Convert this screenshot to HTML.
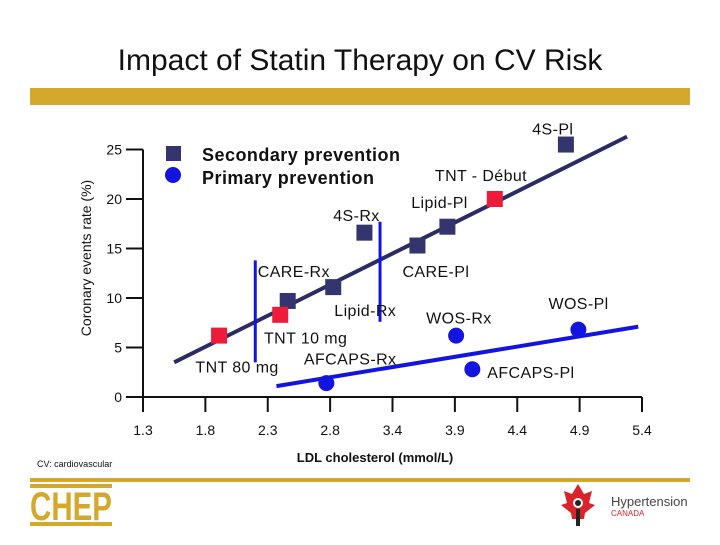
<!DOCTYPE html>
<html><head><meta charset="utf-8"><style>
body{margin:0;background:#fff}
svg text{font-family:"Liberation Sans",sans-serif}
</style></head><body>
<svg id="c" width="720" height="540">
<text x="360" y="70" font-size="30" text-anchor="middle" fill="#111">Impact of Statin Therapy on CV Risk</text>
<rect x="30" y="88" width="660" height="17" fill="#d4a92b"/>
<text transform="translate(91,258) rotate(-90)" font-size="14" text-anchor="middle" fill="#111">Coronary events rate (%)</text>
<text x="375" y="462" font-size="13" font-weight="bold" text-anchor="middle" fill="#111">LDL cholesterol (mmol/L)</text>
<text x="37" y="467" font-size="9" fill="#111">CV: cardiovascular</text>
<rect x="30" y="478" width="660" height="4" fill="#d4a92b"/>
<g>
<rect x="30" y="484" width="82" height="4" fill="#d4a92b"/>
<text x="30" y="520" font-size="40" font-weight="bold" fill="#d4a92b" textLength="82" lengthAdjust="spacingAndGlyphs">CHEP</text>
<rect x="30" y="522" width="82" height="4" fill="#d4a92b"/>
</g>
<g>
<path d="M578 484 l6 10 l8 -3 l-3 12 l6 2 l-10 8 l-1 6 h-12 l-1 -6 l-10 -8 l6 -2 l-3 -12 l8 3z" fill="#d9242b"/>
<circle cx="578" cy="503" r="5" fill="#fff"/><circle cx="578" cy="503" r="3" fill="#222"/>
<rect x="576" y="509" width="4" height="17" fill="#222"/>
<text x="611" y="506" font-size="13" fill="#444">Hypertension</text>
<text x="611" y="516" font-size="8" fill="#d9242b">CANADA</text>
</g>
<g id="plot"></g>
</svg>
<script>
const xTicks=[1.3,1.8,2.3,2.8,3.4,3.9,4.4,4.9,5.4];
const yTicks=[0,5,10,15,20,25];
const secNames=["4S-Pl","4S-Rx","CARE-Pl","Lipid-Pl","Lipid-Rx","CARE-Rx"];
const secX=[4.79,3.13,3.60,3.84,2.83,2.46];
const secY=[25.5,16.6,15.3,17.2,11.1,9.7];
const tntNames=["TNT 80 mg","TNT 10 mg","TNT - Début"];
const tntX=[1.91,2.40,4.22];
const tntY=[6.2,8.3,20];
const primNames=["AFCAPS-Rx","WOS-Rx","AFCAPS-Pl","WOS-Pl"];
const primX=[2.77,3.91,4.04,4.89];
const primY=[1.4,6.2,2.8,6.8];
const secLineX=[1.55,5.28];
const secLineY=[3.5,26.3];
const primLineX=[2.37,5.37];
const primLineY=[1.1,7.1];
const rangeX=[2.2,3.28];
const rangeYTop=[13.8,17.7];
const rangeYBot=[3.5,7.6];
const labels=[["4S-Pl",4.52,26.5],["TNT - Début",3.74,21.8],["Lipid-Pl",3.55,19.1],["4S-Rx",2.83,17.8],["CARE-Rx",2.22,12.1],["CARE-Pl",3.48,12.1],["Lipid-Rx",2.84,8.2],["WOS-Rx",3.67,7.4],["WOS-Pl",4.65,8.9],["TNT 10 mg",2.27,5.4],["AFCAPS-Rx",2.59,3.3],["TNT 80 mg",1.72,2.5],["AFCAPS-Pl",4.16,1.9]];
const X0=143,X1=642,Y0=397,PY=9.9;
function sx(v){for(let i=0;i<xTicks.length-1;i++){if(v<=xTicks[i+1]||i==xTicks.length-2){return X0+(X1-X0)/8*(i+(v-xTicks[i])/(xTicks[i+1]-xTicks[i]));}}}
function sy(v){return Y0-v*PY;}
const NS="http://www.w3.org/2000/svg",g=document.getElementById('plot');
function mk(t,a){const e=document.createElementNS(NS,t);for(const k in a)e.setAttribute(k,a[k]);g.appendChild(e);return e;}
let e=mk('line',{x1:X0,y1:Y0,x2:X0,y2:sy(25),stroke:'#111','stroke-width':2});

e=mk('line',{x1:X0,y1:Y0,x2:X1,y2:Y0,stroke:'#111','stroke-width':2});

yTicks.forEach(v=>{
 let t=mk('line',{x1:X0-17,y1:sy(v),x2:X0,y2:sy(v),stroke:'#111','stroke-width':2});
 
 let l=mk('text',{x:X0-21,y:sy(v)+5,'font-size':14,'text-anchor':'end',fill:'#111'});l.textContent=v;
 
});
xTicks.forEach(v=>{
 let t=mk('line',{x1:sx(v),y1:Y0,x2:sx(v),y2:Y0+15,stroke:'#111','stroke-width':2});
 
 let l=mk('text',{x:sx(v),y:Y0+38,'font-size':14,'text-anchor':'middle',fill:'#111'});l.textContent=v;
 
});
e=mk('line',{x1:sx(secLineX[0]),y1:sy(secLineY[0]),x2:sx(secLineX[1]),y2:sy(secLineY[1]),stroke:'#2c2c64','stroke-width':4});

e=mk('line',{x1:sx(primLineX[0]),y1:sy(primLineY[0]),x2:sx(primLineX[1]),y2:sy(primLineY[1]),stroke:'#1414e0','stroke-width':4});

rangeX.forEach((v,i)=>{
 let r=mk('line',{x1:sx(v),y1:sy(rangeYTop[i]),x2:sx(v),y2:sy(rangeYBot[i]),stroke:'#1414e0','stroke-width':3});
 
});
secX.forEach((v,i)=>{
 let r=mk('rect',{x:sx(v)-8,y:sy(secY[i])-8,width:16,height:16,fill:'#34346e'});
 
});
tntX.forEach((v,i)=>{
 let r=mk('rect',{x:sx(v)-8,y:sy(tntY[i])-8,width:16,height:16,fill:'#ee1c3a'});
 
});
primX.forEach((v,i)=>{
 let c=mk('circle',{cx:sx(v),cy:sy(primY[i]),r:8,fill:'#1414e0'});
 
});
labels.forEach(a=>{
 let l=mk('text',{x:sx(a[1]),y:sy(a[2]),'font-size':16,'letter-spacing':'0.4',fill:'#111'});l.textContent=a[0];
 
});
e=mk('rect',{x:166,y:146,width:15,height:15,fill:'#34346e'});

e=mk('circle',{cx:173,cy:175,r:8,fill:'#1414e0'});

e=mk('text',{x:202,y:161,'font-size':18,'font-weight':'bold',fill:'#111',textLength:198});e.textContent='Secondary prevention';

e=mk('text',{x:202,y:184,'font-size':18,'font-weight':'bold',fill:'#111',textLength:172});e.textContent='Primary prevention';

</script>
</body></html>
